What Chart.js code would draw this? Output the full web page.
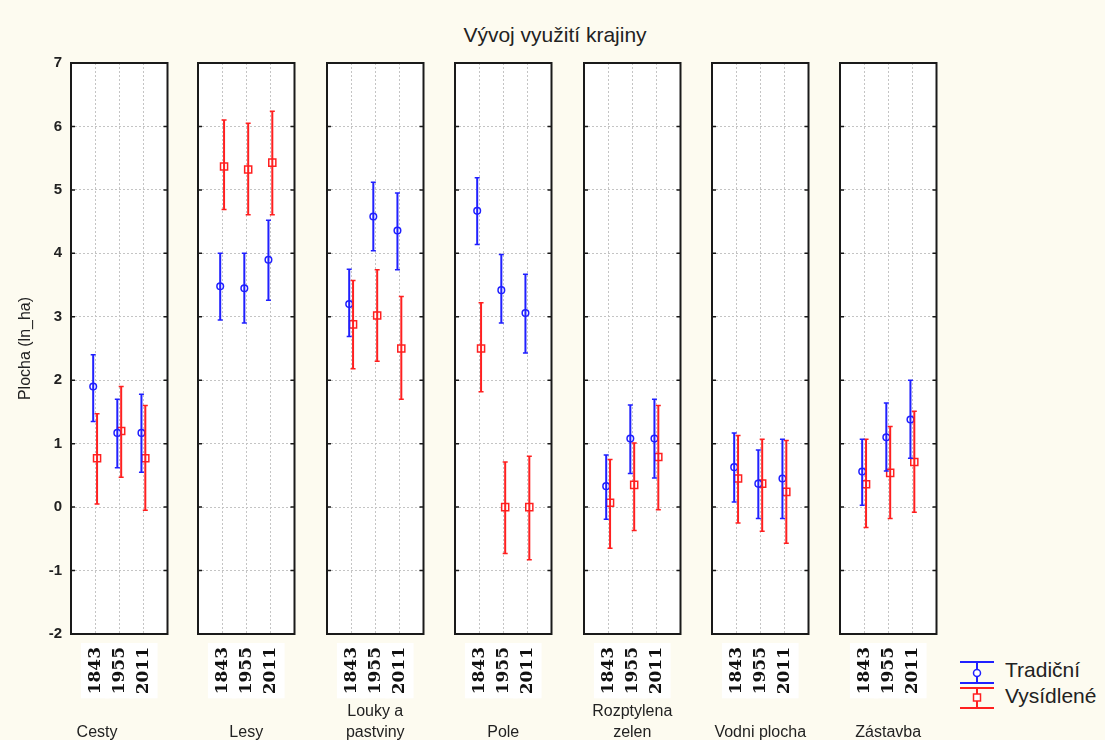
<!DOCTYPE html>
<html>
<head>
<meta charset="utf-8">
<script src="https://cdn.jsdelivr.net/npm/chart.js@4"></script>
<style>
  body { margin: 0; background: #fdfbf0; width: 1105px; height: 740px; position: relative; overflow: hidden;
         font-family: "Liberation Sans", Arial, sans-serif; }
  canvas { position: absolute; }
  #title { position: absolute; left: 0; width: 1110px; top: 23px; text-align: center; font-size: 21px; color: #222; }
  #legend { position: absolute; left: 958px; top: 658px; font-size: 21px; color: #222; }
  #legend div { position: absolute; left: 47px; white-space: nowrap; }
</style>
</head>
<body>
<div id="title">Vývoj využití krajiny</div>
<div id="legend">
  <svg width="40" height="56" style="position:absolute;left:0;top:0">
    <g stroke="#2020ff" stroke-width="2" fill="none">
      <line x1="2" y1="4" x2="36" y2="4"/><line x1="19" y1="4" x2="19" y2="25"/><line x1="2" y1="25" x2="36" y2="25"/>
      <circle cx="19" cy="15" r="3.5" fill="#fff" stroke-width="1.5"/>
    </g>
    <g stroke="#ff2020" stroke-width="2" fill="none">
      <line x1="2" y1="30" x2="36" y2="30"/><line x1="19" y1="30" x2="19" y2="50"/><line x1="2" y1="50" x2="36" y2="50"/>
      <rect x="15.5" y="36" width="7" height="7" fill="#fff" stroke-width="1.5"/>
    </g>
  </svg>
  <div style="top:0px">Tradiční</div>
  <div style="top:26px">Vysídlené</div>
</div>
<script>
const categories = [['Cesty          '], ['Lesy'], ['Louky a', 'pastviny'], ['Pole'], ['Rozptylena', 'zelen'], ['Vodni plocha'], ['Zástavba']];
const years = ['1843', '1955', '2011'];

const tradMean = [[1.9, 1.17, 1.17], [3.48, 3.45, 3.9], [3.2, 4.58, 4.36], [4.67, 3.42, 3.06], [0.33, 1.08, 1.08], [0.63, 0.37, 0.45], [0.56, 1.1, 1.38]];
const tradLow  = [[1.35, 0.62, 0.55], [2.95, 2.9, 3.26], [2.69, 4.04, 3.74], [4.14, 2.9, 2.43], [-0.19, 0.53, 0.46], [0.08, -0.18, -0.18], [0.03, 0.57, 0.77]];
const tradHigh = [[2.4, 1.7, 1.78], [4.0, 4.0, 4.52], [3.75, 5.12, 4.95], [5.19, 3.98, 3.67], [0.82, 1.61, 1.7], [1.17, 0.9, 1.07], [1.07, 1.64, 2.0]];

const vysMean = [[0.77, 1.2, 0.77], [5.37, 5.32, 5.43], [2.88, 3.02, 2.5], [2.5, 0, 0], [0.07, 0.35, 0.79], [0.45, 0.37, 0.24], [0.36, 0.54, 0.71]];
const vysLow  = [[0.05, 0.47, -0.05], [4.69, 4.61, 4.61], [2.18, 2.3, 1.7], [1.82, -0.73, -0.83], [-0.65, -0.37, -0.04], [-0.25, -0.38, -0.57], [-0.32, -0.18, -0.08]];
const vysHigh = [[1.47, 1.9, 1.6], [6.1, 6.05, 6.24], [3.57, 3.74, 3.32], [3.22, 0.71, 0.8], [0.75, 1.01, 1.6], [1.13, 1.07, 1.05], [1.07, 1.27, 1.51]];

const yMin = -2, yMax = 7;

const BLUE = '#2020ff', RED = '#ff2020';

// white plot area, panel frame + small inner tick marks
const frame = {
  id: 'frame',
  beforeDraw(chart) {
    const { ctx, chartArea: a } = chart;
    ctx.save();
    ctx.fillStyle = '#ffffff';
    ctx.fillRect(a.left, a.top, a.right - a.left, a.bottom - a.top);
    ctx.restore();
  },
  afterDraw(chart) {
    const { ctx, chartArea: a, scales } = chart;
    ctx.save();
    ctx.strokeStyle = '#1a1a1a';
    ctx.lineWidth = 2;
    ctx.strokeRect(a.left, a.top, a.right - a.left, a.bottom - a.top);
    ctx.lineWidth = 1.5;
    scales.y.ticks.forEach(t => {
      const py = scales.y.getPixelForValue(t.value);
      ctx.beginPath();
      ctx.moveTo(a.left, py); ctx.lineTo(a.left + 4, py);
      ctx.moveTo(a.right - 4, py); ctx.lineTo(a.right, py);
      ctx.stroke();
    });
    ctx.restore();
  }
};

function errorBars(lo, hi, dx, color) {
  return years.map((_, j) => ({
    data: [{ x: j + 1 + dx, y: lo[j] }, { x: j + 1 + dx, y: hi[j] }],
    showLine: true,
    borderColor: color,
    borderWidth: 2,
    pointStyle: 'line',
    pointRadius: 2.5,
    pointBorderColor: color,
    pointBorderWidth: 1.5
  }));
}

function means(mean, dx, color, style, r) {
  return {
    data: mean.map((v, j) => ({ x: j + 1 + dx, y: v })),
    showLine: false,
    pointStyle: style,
    pointRadius: r,
    pointBackgroundColor: '#fff',
    pointBorderColor: color,
    pointBorderWidth: 1.5
  };
}

const panelLeft = [71, 198, 327, 455, 584, 712, 840];
const panelW = 97;
const canvasTop = 50, canvasH = 693;

categories.forEach((cat, i) => {
  const first = i === 0;
  const leftW = first ? 71 : 10;
  const cv = document.createElement('canvas');
  cv.width = leftW + panelW + 6;
  cv.height = canvasH;
  cv.style.left = (panelLeft[i] - leftW) + 'px';
  cv.style.top = canvasTop + 'px';
  document.body.appendChild(cv);

  new Chart(cv.getContext('2d'), {
    type: 'scatter',
    data: {
      datasets: [
        ...errorBars(tradLow[i], tradHigh[i], -0.08, BLUE),
        ...errorBars(vysLow[i], vysHigh[i], 0.08, RED),
        means(tradMean[i], -0.08, BLUE, 'circle', 3.3),
        means(vysMean[i], 0.08, RED, 'rect', 5)
      ]
    },
    options: {
      responsive: false,
      animation: false,
      devicePixelRatio: 1,
      layout: { padding: { top: 13, right: 2, bottom: 0, left: 0 } },
      plugins: { legend: { display: false }, tooltip: { enabled: false } },
      scales: {
        x: {
          type: 'linear',
          min: 0, max: 4,
          afterBuildTicks: axis => { axis.ticks = years.map((_, j) => ({ value: j + 1 })); },
          afterFit: scale => { scale.height = 109; scale.paddingLeft = 0; scale.paddingRight = 0; },
          grid: { color: '#c4c4c4', drawTicks: false },
          border: { display: false, dash: [2, 2] },
          ticks: {
            autoSkip: false,
            minRotation: 90, maxRotation: 90,
            padding: 13,
            labelOffset: -10.2,
            color: '#111',
            font: { family: 'DejaVu Serif', weight: 'bold', size: 17 },
            showLabelBackdrop: true,
            backdropColor: '#ffffff',
            backdropPadding: 4,
            callback: v => years[v - 1] || ''
          },
          title: {
            display: true,
            text: cat,
            color: '#222',
            font: { family: 'Liberation Sans', size: 16, lineHeight: 1.3 },
            padding: { top: 0, bottom: 0 }
          }
        },
        y: {
          min: yMin, max: yMax,
          afterFit: scale => { scale.width = leftW; scale.paddingTop = 0; scale.paddingBottom = 0; },
          grid: { color: '#c4c4c4', drawTicks: false },
          border: { display: false, dash: [2, 2] },
          ticks: {
            display: first,
            stepSize: 1,
            padding: 9,
            color: '#222',
            font: { family: 'Liberation Sans', weight: 'bold', size: 15 }
          },
          title: {
            display: first,
            text: 'Plocha (ln_ha)',
            color: '#222',
            font: { family: 'Liberation Sans', size: 16 },
            padding: { top: 16, bottom: 0 }
          }
        }
      }
    },
    plugins: [frame]
  });
});
</script>
</body>
</html>
